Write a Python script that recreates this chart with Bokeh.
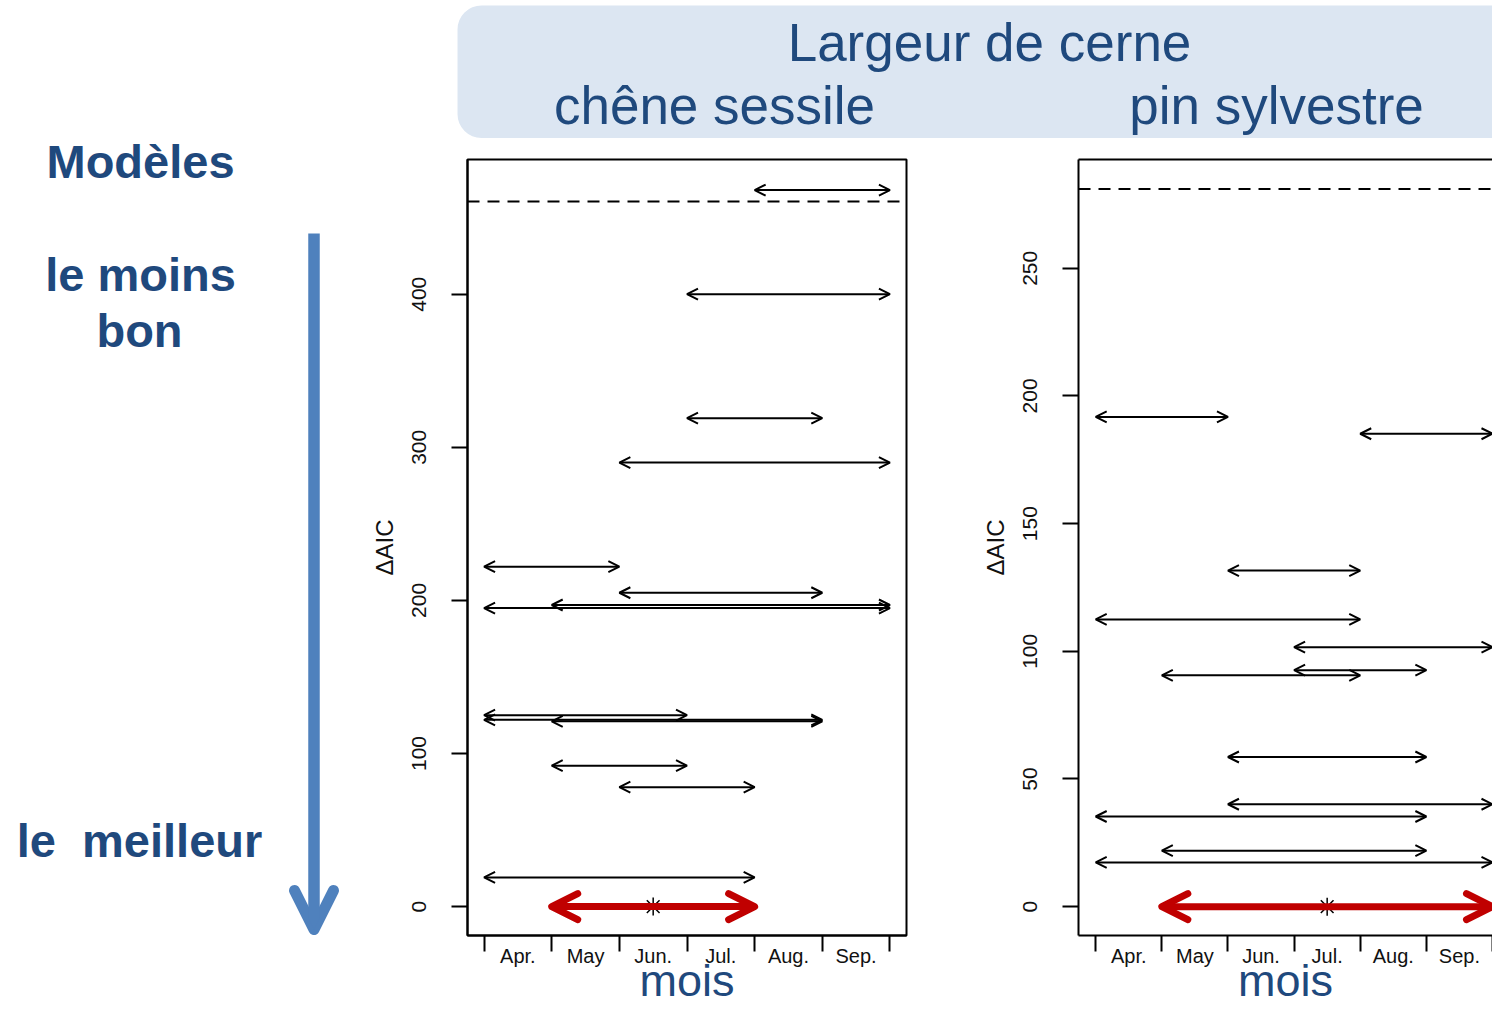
from bokeh.plotting import figure
from bokeh.models import (Range1d, FixedTicker, LinearAxis, Arrow, OpenHead,
                          ColumnDataSource, Span)
from bokeh.layouts import row, column
from bokeh.core.properties import value
from bokeh.embed import file_html
from bokeh.resources import INLINE

# ---------------- data ----------------
months = ["Apr.", "May", "Jun.", "Jul.", "Aug.", "Sep."]

# window start / end expressed as month boundaries (0 = start of April, 6 = end of September)
chene_start = [4, 3, 3, 2, 0, 2, 0, 1, 0, 0, 1, 1, 2, 0, 1]
chene_end   = [6, 6, 5, 6, 2, 5, 6, 6, 3, 5, 5, 3, 4, 4, 4]
chene_daic  = [468, 400, 319, 290, 222, 205, 195, 197, 125, 122, 121, 92, 78, 19, 0]
chene_threshold = 460.5
chene_best_month = 2.5   # middle of June
chene_yticks = [0, 100, 200, 300, 400]

pin_start = [0, 4, 2, 0, 3, 3, 1, 2, 2, 0, 1, 0, 1]
pin_end   = [2, 6, 4, 4, 6, 5, 4, 5, 6, 5, 5, 6, 6]
pin_daic  = [191.8, 185.2, 131.6, 112.5, 101.6, 92.6, 90.6, 58.6, 40.1, 35.3, 21.9, 17.3, 0]
pin_threshold = 281
pin_best_month = 3.5     # middle of July
pin_yticks = [0, 50, 100, 150, 200, 250]

FONT = "Liberation Sans"
DARKBLUE = "#1f497d"
RED = "#c00000"


def panel(width, border_right, xr, yr, starts, ends, daic, thr, best_month,
          yticks, outline=True):
    p = figure(width=width, height=859, output_backend="svg", toolbar_location=None,
               tools="", x_range=Range1d(*xr), y_range=Range1d(*yr),
               min_border_left=100, min_border_right=border_right,
               min_border_top=10, min_border_bottom=73)
    p.grid.visible = False
    p.background_fill_color = "white"
    p.border_fill_color = "white"

    # x axis: month boundary ticks (minor), month names centred (major, no tick)
    xa = p.below[0]
    xa.ticker = FixedTicker(ticks=[i + 0.5 for i in range(len(months))],
                            minor_ticks=list(range(len(months) + 1)))
    xa.major_label_overrides = {i + 0.5: m for i, m in enumerate(months)}
    xa.major_tick_out = 0
    xa.major_tick_in = 0
    xa.minor_tick_out = 16
    xa.minor_tick_in = 0
    xa.minor_tick_line_width = 2
    xa.minor_tick_line_color = "black"
    xa.axis_line_width = 2
    xa.major_label_text_font = FONT
    xa.major_label_text_font_size = "20px"
    xa.major_label_text_color = "#111111"
    xa.major_label_standoff = -7
    xa.axis_label = "mois"
    xa.axis_label_text_font = FONT
    xa.axis_label_text_font_size = "45px"
    xa.axis_label_text_font_style = "normal"
    xa.axis_label_text_color = DARKBLUE
    xa.axis_label_standoff = -15

    ya = p.left[0]
    ya.ticker = FixedTicker(ticks=yticks, minor_ticks=[])
    ya.major_tick_out = 16
    ya.major_tick_in = 0
    ya.major_tick_line_width = 2
    ya.axis_line_width = 2
    ya.major_label_orientation = "vertical"
    ya.major_label_text_font = FONT
    ya.major_label_text_font_size = "21px"
    ya.major_label_text_color = "#111111"
    ya.major_label_standoff = 25
    ya.axis_label = "ΔAIC"
    ya.axis_label_text_font = FONT
    ya.axis_label_text_font_size = "24px"
    ya.axis_label_text_font_style = "normal"
    ya.axis_label_text_color = "#111111"
    ya.axis_label_standoff = 12

    if outline:
        p.outline_line_color = "black"
        p.outline_line_width = 2
    else:
        p.outline_line_color = None
        top = LinearAxis(ticker=FixedTicker(ticks=[], minor_ticks=[]),
                         major_label_text_font_size="0px", axis_line_width=2,
                         major_tick_out=0, minor_tick_out=0, major_label_standoff=0)
        p.add_layout(top, "above")

    p.add_layout(Span(location=thr, dimension="width", line_color="black",
                      line_width=2, line_dash="12 8"))

    src = ColumnDataSource(dict(x0=starts, x1=ends, y=daic))
    p.add_layout(Arrow(source=src, x_start="x0", y_start="y", x_end="x1", y_end="y",
                       line_width=2, line_color="black",
                       start=OpenHead(size=11, line_width=2, line_color="black"),
                       end=OpenHead(size=11, line_width=2, line_color="black")))

    i_best = daic.index(min(daic))
    p.scatter(x=[best_month], y=[daic[i_best]], marker="asterisk", size=18,
              line_color="black", line_width=1.5)

    bsrc = ColumnDataSource(dict(x0=[starts[i_best]], x1=[ends[i_best]], y=[daic[i_best]]))
    p.add_layout(Arrow(source=bsrc, x_start="x0", y_start="y", x_end="x1", y_end="y",
                       line_width=7, line_color=RED,
                       start=OpenHead(size=26, line_width=7, line_color=RED,
                                      line_cap="round", line_join="round"),
                       end=OpenHead(size=26, line_width=7, line_color=RED,
                                    line_cap="round", line_join="round")))
    return p


pL = panel(611, 72, (-0.245, 6.245), (-18.9, 488.0), chene_start, chene_end,
           chene_daic, chene_threshold, chene_best_month, chene_yticks, outline=True)
pR = panel(514, 0, (-0.26, 6.0), (-11.3, 292.6), pin_start, pin_end,
           pin_daic, pin_threshold, pin_best_month, pin_yticks, outline=False)

# ---------------- header band ----------------
hd = figure(width=1125, height=149, output_backend="svg", toolbar_location=None,
            tools="", x_range=Range1d(0, 1125), y_range=Range1d(149, 0),
            x_axis_type=None, y_axis_type=None, min_border=0)
hd.grid.visible = False
hd.outline_line_color = None
hd.quad(left=[90], right=[1200], top=[5], bottom=[137.5], fill_color="#dce6f2",
        line_color=None, border_radius=24)
hd.text(x=[622, 347, 909], y=[41.5, 105, 105],
        text=["Largeur de cerne", "chêne sessile", "pin sylvestre"],
        text_align="center", text_baseline="middle",
        text_font=value(FONT), text_font_size="53px", text_color=DARKBLUE)

# ---------------- left annotation column ----------------
dc = figure(width=367, height=1008, output_backend="svg", toolbar_location=None,
            tools="", x_range=Range1d(0, 367), y_range=Range1d(1008, 0),
            x_axis_type=None, y_axis_type=None, min_border=0)
dc.grid.visible = False
dc.outline_line_color = None
dc.text(x=[140, 140, 139, 139], y=[160.5, 273.5, 329.5, 839.5],
        text=["Modèles", "le moins", "bon", "le \u00a0meilleur"],
        text_align="center", text_baseline="middle",
        text_font=value(FONT), text_font_size="47px", text_font_style="bold",
        text_color=DARKBLUE)
dc.add_layout(Arrow(x_start=313.5, y_start=233, x_end=313.5, y_end=929,
                    line_width=11.5, line_color="#4f81bd",
                    end=OpenHead(size=39, line_width=11, line_color="#4f81bd",
                                 line_cap="round", line_join="round")))

layout = row(dc, column(hd, row(pL, pR)))
open("out.html", "w").write(file_html(layout, INLINE))
